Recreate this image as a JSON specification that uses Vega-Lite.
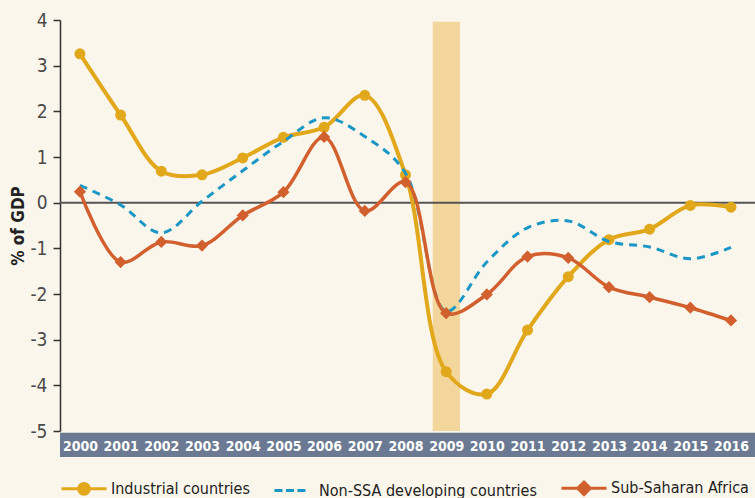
{
  "$schema": "https://vega.github.io/schema/vega-lite/v6.json",
  "width": 695,
  "height": 411,
  "autosize": {"type": "none"},
  "padding": {"left": 60, "top": 20, "right": 0, "bottom": 67},
  "background": "#fbf6ec",
  "config": {"font": "'DejaVu Sans Condensed', 'Liberation Sans', sans-serif", "view": {"stroke": null}},
  "datasets": {
    "band": [{"year": 1999.51, "year2": 2016.59, "value": -5.04, "value2": -5.57}],
    "shade": [{"year": 2008.67, "year2": 2009.34, "value": -5, "value2": 3.96}],
    "zero": [{"value": 0}],
    "series": [
      {"year": 2000, "value": 3.26, "series": "Industrial countries"},
      {"year": 2001, "value": 1.92, "series": "Industrial countries"},
      {"year": 2002, "value": 0.69, "series": "Industrial countries"},
      {"year": 2003, "value": 0.61, "series": "Industrial countries"},
      {"year": 2004, "value": 0.98, "series": "Industrial countries"},
      {"year": 2005, "value": 1.43, "series": "Industrial countries"},
      {"year": 2006, "value": 1.65, "series": "Industrial countries"},
      {"year": 2007, "value": 2.35, "series": "Industrial countries"},
      {"year": 2008, "value": 0.61, "series": "Industrial countries"},
      {"year": 2009, "value": -3.70, "series": "Industrial countries"},
      {"year": 2010, "value": -4.19, "series": "Industrial countries"},
      {"year": 2011, "value": -2.79, "series": "Industrial countries"},
      {"year": 2012, "value": -1.62, "series": "Industrial countries"},
      {"year": 2013, "value": -0.81, "series": "Industrial countries"},
      {"year": 2014, "value": -0.58, "series": "Industrial countries"},
      {"year": 2015, "value": -0.06, "series": "Industrial countries"},
      {"year": 2016, "value": -0.10, "series": "Industrial countries"},
      {"year": 2000, "value": 0.38, "series": "Non-SSA developing countries"},
      {"year": 2001, "value": -0.05, "series": "Non-SSA developing countries"},
      {"year": 2002, "value": -0.66, "series": "Non-SSA developing countries"},
      {"year": 2003, "value": 0.03, "series": "Non-SSA developing countries"},
      {"year": 2004, "value": 0.70, "series": "Non-SSA developing countries"},
      {"year": 2005, "value": 1.34, "series": "Non-SSA developing countries"},
      {"year": 2006, "value": 1.86, "series": "Non-SSA developing countries"},
      {"year": 2007, "value": 1.45, "series": "Non-SSA developing countries"},
      {"year": 2008, "value": 0.65, "series": "Non-SSA developing countries"},
      {"year": 2009, "value": -2.38, "series": "Non-SSA developing countries"},
      {"year": 2010, "value": -1.30, "series": "Non-SSA developing countries"},
      {"year": 2011, "value": -0.55, "series": "Non-SSA developing countries"},
      {"year": 2012, "value": -0.40, "series": "Non-SSA developing countries"},
      {"year": 2013, "value": -0.85, "series": "Non-SSA developing countries"},
      {"year": 2014, "value": -0.97, "series": "Non-SSA developing countries"},
      {"year": 2015, "value": -1.23, "series": "Non-SSA developing countries"},
      {"year": 2016, "value": -0.98, "series": "Non-SSA developing countries"},
      {"year": 2000, "value": 0.24, "series": "Sub-Saharan Africa"},
      {"year": 2001, "value": -1.30, "series": "Sub-Saharan Africa"},
      {"year": 2002, "value": -0.86, "series": "Sub-Saharan Africa"},
      {"year": 2003, "value": -0.94, "series": "Sub-Saharan Africa"},
      {"year": 2004, "value": -0.28, "series": "Sub-Saharan Africa"},
      {"year": 2005, "value": 0.23, "series": "Sub-Saharan Africa"},
      {"year": 2006, "value": 1.44, "series": "Sub-Saharan Africa"},
      {"year": 2007, "value": -0.18, "series": "Sub-Saharan Africa"},
      {"year": 2008, "value": 0.45, "series": "Sub-Saharan Africa"},
      {"year": 2009, "value": -2.42, "series": "Sub-Saharan Africa"},
      {"year": 2010, "value": -2.01, "series": "Sub-Saharan Africa"},
      {"year": 2011, "value": -1.18, "series": "Sub-Saharan Africa"},
      {"year": 2012, "value": -1.21, "series": "Sub-Saharan Africa"},
      {"year": 2013, "value": -1.85, "series": "Sub-Saharan Africa"},
      {"year": 2014, "value": -2.07, "series": "Sub-Saharan Africa"},
      {"year": 2015, "value": -2.30, "series": "Sub-Saharan Africa"},
      {"year": 2016, "value": -2.58, "series": "Sub-Saharan Africa"}
    ]
  },
  "layer": [
    {
      "data": {"name": "shade"},
      "mark": {"type": "rect", "color": "#f3d69b"},
      "encoding": {
        "x": {
          "field": "year", "type": "quantitative",
          "scale": {"domain": [1999.51, 2016.59], "nice": false, "zero": false},
          "axis": {
            "title": null, "values": [2000,2001,2002,2003,2004,2005,2006,2007,2008,2009,2010,2011,2012,2013,2014,2015,2016],
            "format": "d", "grid": false, "ticks": false, "tickSize": 0, "domain": false,
            "offset": 14,
            "labelColor": "#ffffff", "labelFontWeight": "bold", "labelFontSize": 14,
            "labelBaseline": "middle", "labelPadding": 1, "labelFlush": false, "labelOverlap": false,
            "zindex": 2
          }
        },
        "x2": {"field": "year2"},
        "y": {
          "field": "value", "type": "quantitative",
          "scale": {"domain": [-5, 4], "nice": false, "zero": false},
          "axis": {
            "title": "% of GDP", "titleFontSize": 17, "titleFontWeight": "bold", "titleColor": "#222222",
            "titlePadding": 2,
            "values": [-5,-4,-3,-2,-1,0,1,2,3,4], "labelExpr": "'' + datum.value",
            "grid": false, "domainColor": "#333333", "domainWidth": 1.5,
            "tickColor": "#333333", "tickSize": 7, "tickWidth": 1.5,
            "labelFontSize": 19, "labelColor": "#4a4a4a", "labelPadding": 6
          }
        },
        "y2": {"field": "value2"}
      }
    },
    {
      "data": {"name": "band"},
      "mark": {"type": "rect", "color": "#6b7a92", "clip": false},
      "encoding": {
        "x": {"field": "year", "type": "quantitative"},
        "x2": {"field": "year2"},
        "y": {"field": "value", "type": "quantitative"},
        "y2": {"field": "value2"}
      }
    },
    {
      "data": {"name": "zero"},
      "mark": {"type": "rule", "color": "#555555", "strokeWidth": 2},
      "encoding": {"y": {"field": "value", "type": "quantitative"}}
    },
    {
      "data": {"name": "series"},
      "transform": [{"filter": "datum.series === 'Industrial countries'"}],
      "mark": {"type": "line", "interpolate": "catmull-rom", "strokeWidth": 4},
      "encoding": {
        "x": {"field": "year", "type": "quantitative"},
        "y": {"field": "value", "type": "quantitative"},
        "color": {
          "field": "series", "type": "nominal",
          "scale": {"domain": ["Industrial countries", "Non-SSA developing countries", "Sub-Saharan Africa"], "range": ["#e2a81b", "#1b97c6", "#d2602f"]},
          "legend": {
            "title": null, "orient": "none", "legendX": 0, "legendY": 444, "direction": "horizontal",
            "padding": 0, "symbolSize": 2025, "labelFontSize": 16, "labelColor": "#222222",
            "labelOffset": 3, "columnPadding": 18, "labelLimit": 400,
            "encode": {
              "symbols": {
                "update": {
                  "shape": {"signal": "datum.value === 'Industrial countries' ? 'M-1,0H1M-0.24,0A0.24,0.24 0 1,0 0.24,0A0.24,0.24 0 1,0 -0.24,0Z' : datum.value === 'Sub-Saharan Africa' ? 'M-1,0H1M0,-0.28L0.28,0L0,0.28L-0.28,0Z' : 'M-0.78,0H-0.42M-0.27,0H0.09M0.24,0H0.6'"},
                  "fill": {"signal": "datum.value === 'Non-SSA developing countries' ? 'transparent' : scale('color', datum.value)"},
                  "stroke": {"signal": "scale('color', datum.value)"},
                  "strokeWidth": {"value": 3},
                  "strokeDash": {"value": []},
                  "opacity": {"value": 1}
                }
              }
            }
          }
        }
      }
    },
    {
      "data": {"name": "series"},
      "transform": [{"filter": "datum.series === 'Industrial countries'"}],
      "mark": {"type": "point", "shape": "circle", "filled": true, "size": 121, "opacity": 1},
      "encoding": {
        "x": {"field": "year", "type": "quantitative"},
        "y": {"field": "value", "type": "quantitative"},
        "color": {"field": "series", "type": "nominal"}
      }
    },
    {
      "data": {"name": "series"},
      "transform": [{"filter": "datum.series === 'Non-SSA developing countries'"}],
      "mark": {"type": "line", "interpolate": "catmull-rom", "strokeWidth": 3, "strokeDash": [8, 6]},
      "encoding": {
        "x": {"field": "year", "type": "quantitative"},
        "y": {"field": "value", "type": "quantitative"},
        "color": {"field": "series", "type": "nominal"}
      }
    },
    {
      "data": {"name": "series"},
      "transform": [{"filter": "datum.series === 'Sub-Saharan Africa'"}],
      "mark": {"type": "line", "interpolate": "catmull-rom", "strokeWidth": 3.5},
      "encoding": {
        "x": {"field": "year", "type": "quantitative"},
        "y": {"field": "value", "type": "quantitative"},
        "color": {"field": "series", "type": "nominal"}
      }
    },
    {
      "data": {"name": "series"},
      "transform": [{"filter": "datum.series === 'Sub-Saharan Africa'"}],
      "mark": {"type": "point", "shape": "diamond", "filled": true, "size": 150, "opacity": 1},
      "encoding": {
        "x": {"field": "year", "type": "quantitative"},
        "y": {"field": "value", "type": "quantitative"},
        "color": {"field": "series", "type": "nominal"}
      }
    }
  ]
}
